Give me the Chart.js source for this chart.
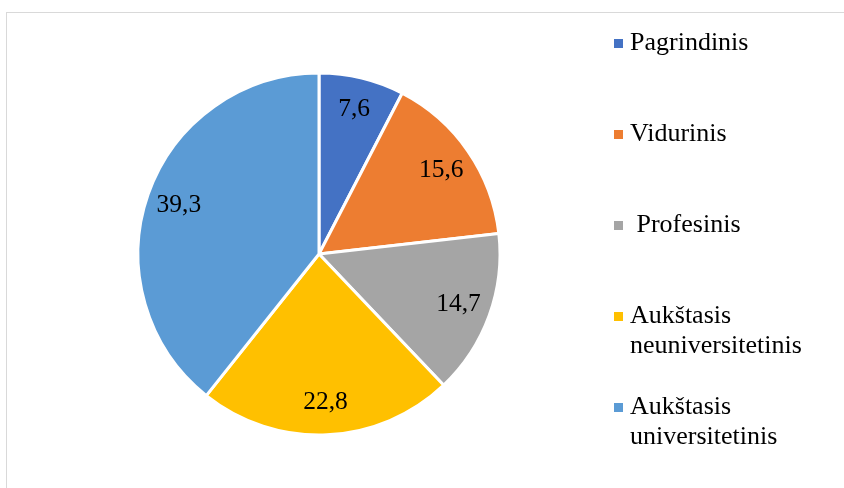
<!DOCTYPE html>
<html>
<head>
<meta charset="utf-8">
<script src="https://cdn.jsdelivr.net/npm/chart.js@4.4.0/dist/chart.umd.min.js"></script>
<style>
  html, body { margin: 0; padding: 0; background: #fff; }
  #wrap { width: 844px; height: 488px; position: relative; }
</style>
</head>
<body>
<div id="wrap"><canvas id="myChart" width="844" height="488"></canvas></div>
<script>
'use strict';
const labels = ['Pagrindinis', 'Vidurinis', ' Profesinis', 'Aukštasis neuniversitetinis', 'Aukštasis universitetinis'];
const values = [7.6, 15.6, 14.7, 22.8, 39.3];
const colors = ['#4472C4', '#ED7D31', '#A5A5A5', '#FFC000', '#5B9BD5'];

const valueFont = '25.5px "Liberation Serif"';
const legendFont = '26px "Liberation Serif"';

// light frame line like the original document box
const framePlugin = {
  id: 'frame',
  beforeDraw(chart) {
    const ctx = chart.ctx;
    ctx.save();
    ctx.fillStyle = '#fff';
    ctx.fillRect(0, 0, chart.width, chart.height);
    ctx.strokeStyle = '#d9d9d9';
    ctx.lineWidth = 1;
    ctx.strokeRect(6.5, 12.5, 1000, 1000);
    ctx.restore();
  }
};

// value labels inside the slices
const valuePlugin = {
  id: 'values',
  afterDatasetsDraw(chart) {
    const ctx = chart.ctx;
    const meta = chart.getDatasetMeta(0);
    ctx.save();
    ctx.font = valueFont;
    ctx.fillStyle = '#000';
    ctx.textAlign = 'center';
    ctx.textBaseline = 'middle';
    meta.data.forEach((arc, i) => {
      const p = arc.getProps(['x', 'y', 'startAngle', 'endAngle', 'outerRadius'], true);
      const mid = (p.startAngle + p.endAngle) / 2;
      const r = p.outerRadius * 0.82;
      const txt = String(values[i]).replace('.', ',');
      ctx.fillText(txt, p.x + Math.cos(mid) * r, p.y + Math.sin(mid) * r);
    });
    ctx.restore();
  }
};

// legend on the right, wrapped text
const legendPlugin = {
  id: 'sideLegend',
  afterDraw(chart) {
    const ctx = chart.ctx;
    ctx.save();
    ctx.font = legendFont;
    ctx.textBaseline = 'middle';
    ctx.textAlign = 'left';
    let y = 43.5;
    for (let i = 0; i < labels.length; i++) {
      let lead = labels[i].match(/^ */)[0];
      let words = labels[i].trim().split(' ');
      let lines = [];
      let cur = lead + words[0];
      for (let k = 1; k < words.length; k++) {
        let test = cur + ' ' + words[k];
        if (ctx.measureText(test).width > 205) {
          lines.push(cur);
          cur = words[k];
        } else {
          cur = test;
        }
      }
      lines.push(cur);
      ctx.fillStyle = colors[i];
      ctx.fillRect(614, y - 4.5, 9, 9);
      ctx.fillStyle = '#000';
      lines.forEach((ln, k) => {
        ctx.fillText(ln, 630, y + k * 30);
      });
      y += 91;
    }
    ctx.restore();
  }
};

function draw() {
  const ctx = document.getElementById('myChart').getContext('2d');
  new Chart(ctx, {
    type: 'pie',
    data: {
      labels: labels,
      datasets: [{
        data: values,
        backgroundColor: colors,
        borderColor: '#fff',
        borderWidth: 3,
        hoverOffset: 0
      }]
    },
    options: {
      responsive: false,
      animation: false,
      events: [],
      radius: 181,
      layout: { padding: { left: 10, right: 216, top: 30, bottom: 10 } },
      plugins: {
        legend: { display: false },
        tooltip: { enabled: false }
      }
    },
    plugins: [framePlugin, valuePlugin, legendPlugin]
  });
}

document.fonts.load(legendFont).then(draw, draw);
</script>
</body>
</html>
